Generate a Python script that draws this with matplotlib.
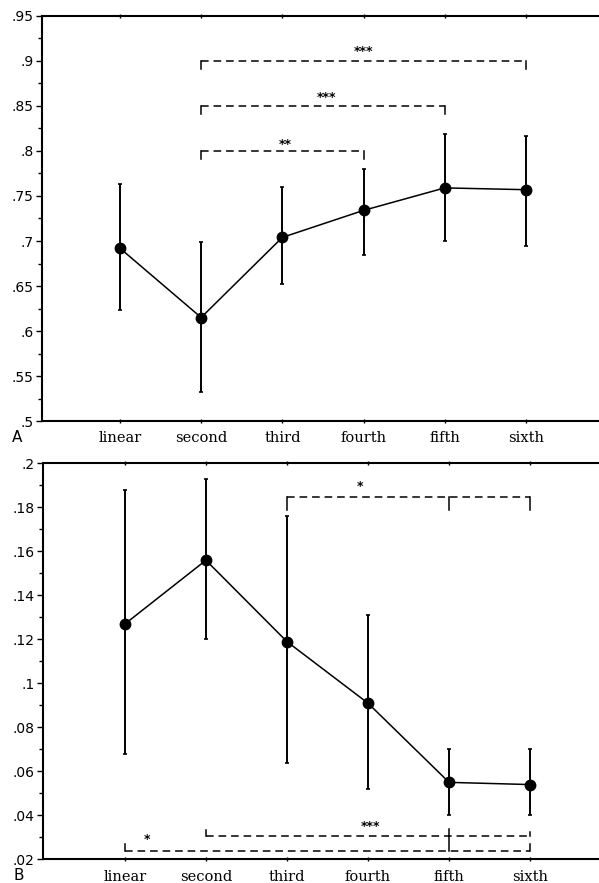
import matplotlib.pyplot as plt
from matplotlib.ticker import MultipleLocator, FuncFormatter

orders = ['linear', 'second', 'third', 'fourth', 'fifth', 'sixth']

# panel A
a_mean = [0.692, 0.615, 0.704, 0.734, 0.759, 0.757]
a_low = [0.623, 0.532, 0.652, 0.685, 0.700, 0.695]
a_high = [0.763, 0.699, 0.760, 0.780, 0.819, 0.817]

# panel B
b_mean = [0.127, 0.156, 0.119, 0.091, 0.055, 0.054]
b_low = [0.068, 0.120, 0.064, 0.052, 0.040, 0.040]
b_high = [0.188, 0.193, 0.176, 0.131, 0.070, 0.070]

# brackets: (from, to, extra tick, y, stars, star x, star y)
a_brackets = [
    (1, 5, None, 0.900, '***', 3.0, 0.9105),
    (1, 4, None, 0.850, '***', 2.54, 0.859),
    (1, 3, None, 0.800, '**', 2.04, 0.807),
]
b_brackets = [
    (2, 5, 4, 0.1848, '*', 2.9, 0.1895),
    (1, 5, 4, 0.0306, '***', 3.03, 0.0349),
    (0, 5, 4, 0.0236, '*', 0.27, 0.0290),
]
# how far each end tick of the B brackets goes (from, mid, to)
b_drops = [
    (-0.006, -0.006, -0.006),
    (0.0026, 0.003, 0.0018),
    (0.0034, 0.007, 0.0034),
]


def fmt_decimal(v, pos):
    s = ('%.3f' % v).rstrip('0').rstrip('.')
    if s.startswith('0.'):
        s = s[1:]
    return s


def dibujar_panel(ax, medias, bajos, altos, xlim, ylim, major, minor, letra):
    x = list(range(len(orders)))
    err = [[m - b for m, b in zip(medias, bajos)], [a - m for m, a in zip(medias, altos)]]
    ax.errorbar(x, medias, yerr=err, fmt='none', ecolor='black', elinewidth=1.4,
                capsize=1.5, capthick=1.2)
    ax.plot(x, medias, color='black', lw=1.1, marker='o', ms=7.5)

    ax.set_xlim(*xlim)
    ax.set_ylim(*ylim)
    ax.set_xticks(x)
    ax.set_xticklabels(orders, family='DejaVu Serif', fontsize=10.5)
    ax.yaxis.set_major_locator(MultipleLocator(major))
    ax.yaxis.set_minor_locator(MultipleLocator(minor))
    ax.yaxis.set_major_formatter(FuncFormatter(fmt_decimal))
    for lab in ax.get_yticklabels():
        lab.set_family('DejaVu Sans')
        lab.set_fontsize(10)
    ax.tick_params(axis='y', which='major', length=4, width=1, pad=2)
    ax.tick_params(axis='y', which='minor', length=3, width=1)
    ax.tick_params(axis='x', length=3, width=1, pad=6, top=True, direction='inout')
    ax.spines['right'].set_visible(False)
    for s in ['left', 'bottom', 'top']:
        ax.spines[s].set_linewidth(1.5)
    ax.text(-0.035, -0.022, letra, transform=ax.transAxes, ha='right', va='top',
            family='DejaVu Sans', fontsize=11)


def dibujar_bracket(ax, ini, fin, y, ends, stars, sx, sy):
    ax.plot([ini, fin], [y, y], color='black', lw=1.1, dashes=(5, 3.2))
    for e, d in ends:
        ax.plot([e, e], [y, y + d], color='black', lw=1.1)
    ax.text(sx, sy, stars, ha='center', va='center', fontsize=9, fontweight='bold')


fig = plt.figure(figsize=(5.99, 8.83), dpi=100)
ax1 = fig.add_axes([0.0701, 0.5232, 0.9299, 0.4587])
ax2 = fig.add_axes([0.0718, 0.0268, 0.9282, 0.4483])

dibujar_panel(ax1, a_mean, a_low, a_high, (-0.96, 5.9), (0.5, 0.95), 0.05, 0.025, 'A')
dibujar_panel(ax2, b_mean, b_low, b_high, (-1.01, 5.85), (0.02, 0.2), 0.02, 0.01, 'B')

for ini, fin, mid, y, stars, sx, sy in a_brackets:
    dibujar_bracket(ax1, ini, fin, y, [(ini, -0.009), (fin, -0.009)], stars, sx, sy)

for (ini, fin, mid, y, stars, sx, sy), (d0, dm, d1) in zip(b_brackets, b_drops):
    dibujar_bracket(ax2, ini, fin, y, [(ini, d0), (mid, dm), (fin, d1)], stars, sx, sy)

fig.savefig('out.png', dpi=100)
